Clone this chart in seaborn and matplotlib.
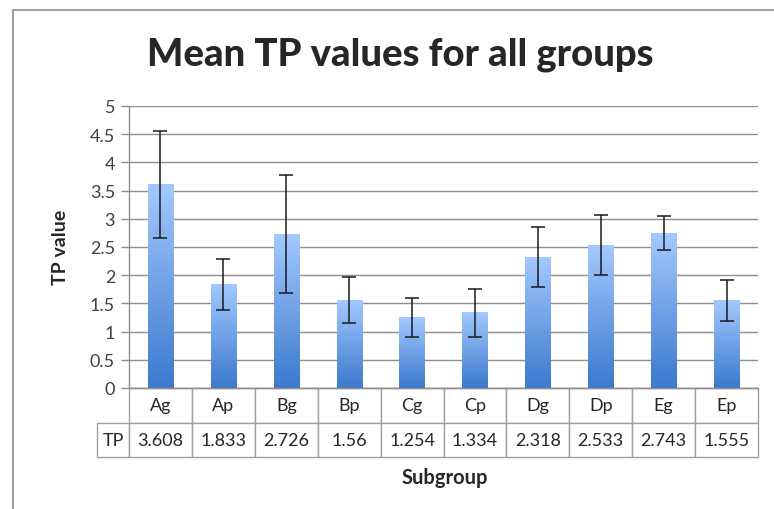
import numpy as np
import pandas as pd
import matplotlib.pyplot as plt
import seaborn as sns
from matplotlib.colors import LinearSegmentedColormap
from matplotlib.patches import Rectangle

# values
subgroups = ['Ag', 'Ap', 'Bg', 'Bp', 'Cg', 'Cp', 'Dg', 'Dp', 'Eg', 'Ep']
tp_values = [3.608, 1.833, 2.726, 1.56, 1.254, 1.334, 2.318, 2.533, 2.743, 1.555]
tp_errors = [0.94, 0.45, 1.05, 0.41, 0.35, 0.43, 0.535, 0.535, 0.305, 0.365]
y_ticks = [0, 0.5, 1, 1.5, 2, 2.5, 3, 3.5, 4, 4.5, 5]
y_tick_labels = ['0', '0.5', '1', '1.5', '2', '2.5', '3', '3.5', '4', '4.5', '5']

sns.set_style('white')
plt.rcParams['font.family'] = ['Lato', 'DejaVu Sans']

W, H = 774, 510
fig = plt.figure(figsize=(W / 100, H / 100), dpi=100)
ax = fig.add_axes([129 / W, (H - 389) / H, 629 / W, 282 / H])

df = pd.DataFrame({'Subgroup': subgroups, 'TP': tp_values})
sns.barplot(data=df, x='Subgroup', y='TP', ax=ax, width=0.4,
            color='#6a9fe6', errorbar=None)

# excel style vertical gradient on every bar
cmap = LinearSegmentedColormap.from_list('bar', ['#3c79cd', '#a3c9ff'])
grad = np.linspace(0, 1, 256).reshape(-1, 1)
for bar in ax.patches:
    x0, w, h = bar.get_x(), bar.get_width(), bar.get_height()
    ax.imshow(grad, extent=[x0, x0 + w, 0, h], origin='lower',
              aspect='auto', cmap=cmap, zorder=2)
    bar.set_facecolor('none')
    bar.set_edgecolor('none')

ax.errorbar(range(len(subgroups)), tp_values, yerr=tp_errors, fmt='none',
            ecolor='#1a1a1a', elinewidth=1.1, capsize=5, capthick=1.1, zorder=3)

ax.set_xlim(-0.5, len(subgroups) - 0.5)
ax.set_ylim(0, 5)
ax.set_yticks(y_ticks)
ax.set_yticklabels(y_tick_labels)
ax.yaxis.grid(True, color='#8e8e8e', lw=1)
ax.set_axisbelow(True)
ax.set_xticks([])
ax.set_xlabel('')
ax.set_ylabel('')
ax.tick_params(axis='y', left=True, length=6, width=1, color='#8e8e8e',
               labelsize=13, labelcolor='#404040', pad=4)
for side in ['top', 'right']:
    ax.spines[side].set_visible(False)
for side in ['left', 'bottom']:
    ax.spines[side].set_color('#8e8e8e')
    ax.spines[side].set_linewidth(1)

# data table under the axis
lab_w = 32 / 629
tbl = ax.table(cellText=[['TP'] + [f'{v:g}' for v in tp_values]],
               colLabels=[''] + subgroups,
               colWidths=[lab_w] + [1 / len(subgroups)] * len(subgroups),
               cellLoc='center', colLoc='center',
               bbox=[-lab_w, -69 / 282, 1 + lab_w, 69 / 282])
tbl.auto_set_font_size(False)
tbl.set_fontsize(13)
for (r, c), cell in tbl.get_celld().items():
    cell.set_edgecolor('#a0a0a0')
    cell.set_linewidth(1)
    cell.get_text().set_color('#262626')
    if r == 0 and c == 0:
        cell.visible_edges = ''

fig.text(400 / W, 1 - 55 / H, 'Mean TP values for all groups',
         ha='center', va='center', fontsize=27.5, fontweight='black')
fig.text(60 / W, 1 - 247 / H, 'TP value', rotation=90,
         ha='center', va='center', fontsize=14, fontweight='bold')
fig.text(445 / W, 1 - 478 / H, 'Subgroup',
         ha='center', va='center', fontsize=14.5, fontweight='bold')

fig.patches.append(Rectangle((13 / W, -0.1), 1.2, (H - 11) / H + 0.1,
                             transform=fig.transFigure, fill=False,
                             ec='#a0a0a0', lw=1.5))

fig.savefig('out.png', dpi=100)
